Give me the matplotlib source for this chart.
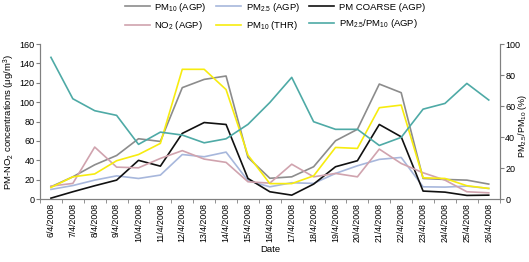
import numpy as np
import matplotlib.pyplot as plt

plt.rcParams['font.family'] = ['Liberation Sans', 'DejaVu Sans']
plt.rcParams['mathtext.fontset'] = 'custom'
plt.rcParams['mathtext.rm'] = 'Liberation Sans'
plt.rcParams['mathtext.it'] = 'Liberation Sans'

dates = ['6/4/2008', '7/4/2008', '8/4/2008', '9/4/2008', '10/4/2008', '11/4/2008',
         '12/4/2008', '13/4/2008', '14/4/2008', '15/4/2008', '16/4/2008', '17/4/2008',
         '18/4/2008', '19/4/2008', '20/4/2008', '21/4/2008', '22/4/2008', '23/4/2008',
         '24/4/2008', '25/4/2008', '26/4/2008']

pm10_agp = [12.7, 23, 35.4, 45, 62.3, 59.5, 115, 123.5, 127, 43, 21.5, 23,
            33.4, 60.2, 72, 118.7, 109.8, 21.3, 20.3, 19.6, 15.5]
pm25_agp = [10, 14, 19.6, 24, 21.3, 24.8, 46, 43.7, 48.5, 19, 12.7, 16.9,
            16.2, 26.5, 34.4, 41, 43, 12.7, 12.4, 13.4, 11]
pm_coarse = [1, 7.6, 13.8, 19.6, 40, 34, 67.8, 79, 77, 21.3, 7.6, 4.1,
             15.5, 33.4, 39.6, 77, 64.3, 8.3, 7.2, 3.8, 4.1]
no2_agp = [13.4, 16.2, 53.7, 33, 32.3, 42, 50, 41.3, 37.9, 17.9, 16.5, 36,
           23, 26.5, 23, 51.6, 36.8, 27.2, 19.6, 7.6, 6.5]
pm10_thr = [12, 23, 26, 39.6, 46, 57.5, 133.9, 133.9, 113, 45.4, 16, 16,
            24, 53.3, 52.3, 94.3, 97, 22, 21.3, 13.8, 11]
ratio = [91.4, 64.7, 57, 54, 35.3, 43.2, 41.3, 36.3, 38.9, 48.2, 62.3, 78.5,
         49.9, 45, 45, 34.6, 39.8, 58, 61.7, 74.6, 63.9]

x = np.arange(len(dates))

fig = plt.figure(figsize=(5.29, 2.62), dpi=100)
ax = fig.add_axes([0.0756, 0.240, 0.869, 0.592])
ax2 = ax.twinx()

lw = 1.2
l1, = ax.plot(x, pm10_agp, color='#8c8c8c', lw=lw, label='PM$_{10}$ (AGP)')
l2, = ax.plot(x, pm25_agp, color='#a7b7dc', lw=lw, label='PM$_{2.5}$ (AGP)')
l3, = ax.plot(x, pm_coarse, color='#111111', lw=lw, label='PM COARSE (AGP)')
l4, = ax.plot(x, no2_agp, color='#d0a3ae', lw=lw, label='NO$_2$ (AGP)')
l5, = ax.plot(x, pm10_thr, color='#f7ec0f', lw=lw, label='PM$_{10}$ (THR)')
l6, = ax2.plot(x, ratio, color='#4eaaa6', lw=lw, label='PM$_{2.5}$/PM$_{10}$ (AGP)')

ax.set_xlim(-0.5, len(dates) - 0.5)
ax.set_ylim(0, 160)
ax2.set_ylim(0, 100)
ax.set_yticks(np.arange(0, 161, 20))
ax2.set_yticks(np.arange(0, 101, 20))

ax.set_xticks(x)
ax.set_xticklabels(dates, rotation=90, fontsize=6.3)
ax.set_xticks(np.arange(-0.5, len(dates), 1), minor=True)
ax.tick_params(axis='x', which='major', length=0, pad=3)
ax.tick_params(axis='x', which='minor', length=3, color='#808080')
ax.tick_params(axis='y', labelsize=6.5, length=3, color='#808080', pad=1)
ax2.tick_params(axis='y', labelsize=6.5, length=3, color='#808080', pad=1)

for a in (ax, ax2):
    a.spines['top'].set_visible(False)
    for s in ('left', 'right', 'bottom'):
        a.spines[s].set_color('#808080')
        a.spines[s].set_linewidth(0.8)

ax.set_xlabel('Date', fontsize=6.8, labelpad=2)
ax.set_ylabel('PM-NO$_2$ concentrations (\u03bcg/m$^3$)', fontsize=6.8, labelpad=2)
ax2.set_ylabel('PM$_{2.5}$/PM$_{10}$ (%)', fontsize=6.5, rotation=90,
               va='center', ha='center')
ax2.yaxis.set_label_coords(1.05, 0.47)

# legend fills column-wise, so order handles to get two rows of three
handles = [l1, l4, l2, l5, l3, l6]
fig.legend(handles, [h.get_label() for h in handles], ncol=3, fontsize=6.8,
           frameon=False, loc='upper center', bbox_to_anchor=(0.52, 1.03),
           handlelength=2.6, columnspacing=1.0, handletextpad=0.5, labelspacing=0.55)

fig.savefig('out.png', dpi=100)
